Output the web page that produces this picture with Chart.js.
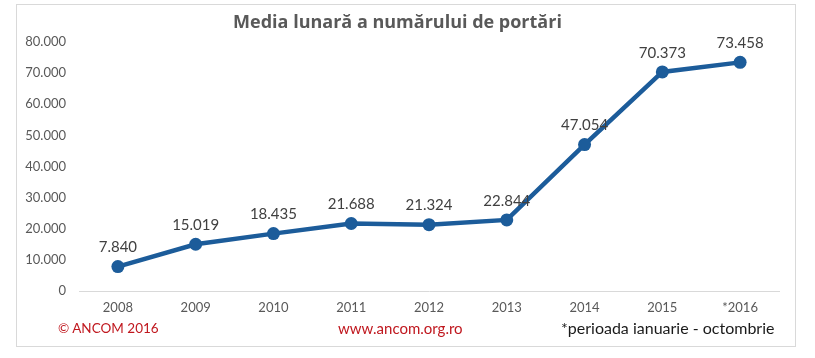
<!DOCTYPE html>
<html>
<head>
<meta charset="utf-8">
<script src="https://cdn.jsdelivr.net/npm/chart.js@4/dist/chart.umd.min.js"></script>
<style>
  html, body { margin: 0; padding: 0; background: #fff; }
  #wrap { position: relative; width: 815px; height: 358px; }
  #frame { position: absolute; left: 16px; top: 4px; width: 780px; height: 343px; border: 1px solid #d9d9d9; box-sizing: border-box; }
  canvas { position: absolute; left: 0; top: 0; }
  .foot { position: absolute; top: 319px; font-family: Lato, "Open Sans", sans-serif; font-size: 15px; line-height: 18px; white-space: nowrap; }
</style>
</head>
<body>
<div id="wrap">
  <div id="frame"></div>
  <canvas id="c" width="815" height="358"></canvas>
  <span class="foot" style="left:58px;color:#c0181f;font-size:13.5px;">© ANCOM 2016</span>
  <span class="foot" style="left:338px;color:#c0181f;">www.ancom.org.ro</span>
  <span class="foot" style="left:561px;color:#1a1a1a;font-size:16px;">*perioada ianuarie - octombrie</span>
</div>
<script>
const titleText = "Media lunară a numărului de portări";
const years = ["2008", "2009", "2010", "2011", "2012", "2013", "2014", "2015", "*2016"];
const portari = [7840, 15019, 18435, 21688, 21324, 22844, 47054, 70373, 73458];
const yTicks = [0, 10000, 20000, 30000, 40000, 50000, 60000, 70000, 80000];

function fmt(v) {
  return String(v).replace(/\B(?=(\d{3})+(?!\d))/g, ".");
}

const labelPlugin = {
  id: "pointLabels",
  afterDatasetsDraw(chart) {
    const ctx = chart.ctx;
    const meta = chart.getDatasetMeta(0);
    ctx.save();
    ctx.font = "15px Lato, 'Open Sans', sans-serif";
    ctx.fillStyle = "#404040";
    ctx.textAlign = "center";
    ctx.textBaseline = "middle";
    meta.data.forEach((pt, i) => {
      ctx.fillText(fmt(portari[i]), pt.x, pt.y - 19);
    });
    ctx.restore();
  }
};

new Chart(document.getElementById("c"), {
  type: "line",
  data: {
    labels: years,
    datasets: [{
      data: portari,
      borderColor: "#1c5c9a",
      backgroundColor: "#1c5c9a",
      borderWidth: 4.5,
      pointRadius: 6.5,
      pointHoverRadius: 6.5,
      pointBackgroundColor: "#1c5c9a",
      pointBorderWidth: 0,
      tension: 0
    }]
  },
  options: {
    responsive: false,
    animation: false,
    layout: { padding: { left: 16, right: 36, top: 0, bottom: 37 } },
    plugins: {
      legend: { display: false },
      tooltip: { enabled: false },
      title: {
        display: true,
        text: titleText,
        color: "#595959",
        font: { family: "'Open Sans', Lato, sans-serif", size: 18, weight: "bold", lineHeight: 1.2 },
        padding: { top: 12, bottom: 8.4 }
      }
    },
    scales: {
      x: {
        offset: true,
        grid: { display: false, drawTicks: false, offset: true },
        border: { display: true, color: "#d9d9d9", width: 1 },
        ticks: { color: "#595959", font: { family: "Lato, 'Open Sans', sans-serif", size: 13 }, padding: 9, maxRotation: 0 },
        afterFit(s) { s.height = 30; }
      },
      y: {
        min: 0,
        max: 80000,
        afterBuildTicks(s) { s.ticks = yTicks.map(v => ({ value: v })); },
        grid: { display: false, drawTicks: false },
        border: { display: false },
        ticks: {
          color: "#595959",
          font: { family: "Lato, 'Open Sans', sans-serif", size: 13 },
          padding: 13,
          callback: v => fmt(v)
        },
        afterFit(s) { s.width = 63; }
      }
    }
  },
  plugins: [labelPlugin]
});
</script>
</body>
</html>
